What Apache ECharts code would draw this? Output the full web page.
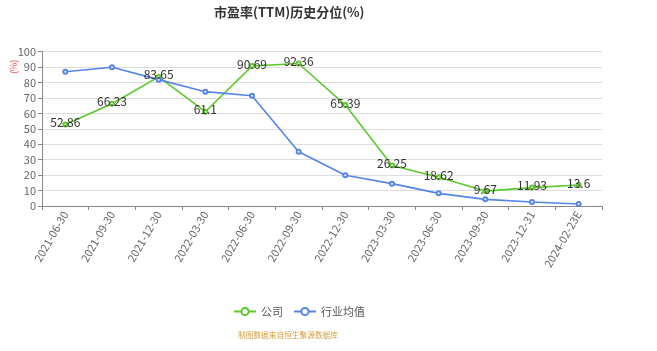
<!DOCTYPE html>
<html>
<head>
<meta charset="utf-8">
<script src="https://cdn.jsdelivr.net/npm/echarts@6/dist/echarts.min.js"></script>
<style>
  html, body { margin: 0; padding: 0; background: #fff; }
  #main { width: 657px; height: 351px; }
</style>
</head>
<body>
<div id="main"></div>
<script>
// 报告期
var dates = ['2021-06-30', '2021-09-30', '2021-12-30', '2022-03-30', '2022-06-30', '2022-09-30',
  '2022-12-30', '2023-03-30', '2023-06-30', '2023-09-30', '2023-12-31', '2024-02-23E']
// 公司 PE 历史分位
var company = [52.86, 66.23, 83.65, 61.1, 90.69, 92.36, 65.39, 26.25, 18.62, 9.67, 11.93, 13.6]
// 行业均值
var industry = [87.0, 89.9, 81.9, 74.1, 71.5, 35.2, 19.9, 14.5, 8.2, 4.3, 2.6, 1.3]

var chart = echarts.init(document.getElementById('main'))
var font = 'Noto Sans CJK SC, Noto Sans, sans-serif'

chart.setOption({
  animation: false,
  textStyle: { fontFamily: font },
  title: {
    text: '市盈率(TTM)历史分位(%)',
    left: 209,
    top: 1,
    textStyle: { fontSize: 13, fontWeight: 'bold', color: '#333', fontFamily: font }
  },
  legend: {
    bottom: 29,
    left: 228,
    itemWidth: 22,
    itemHeight: 9,
    itemGap: 10,
    textStyle: { fontSize: 11, color: '#555' },
    data: ['公司', '行业均值']
  },
  graphic: [
    {
      type: 'text',
      left: 238,
      top: 331,
      style: { text: '制图数据来自恒生聚源数据库', fontSize: 7.7, fill: '#d4a040', fontFamily: font }
    },
    {
      type: 'text',
      x: 9,
      y: 74,
      rotation: Math.PI / 2,
      style: { text: '(%)', fontSize: 9, fill: '#f05050', fontFamily: font }
    }
  ],
  grid: { left: 42, right: 55, top: 51.7, bottom: 145 },
  xAxis: {
    type: 'category',
    data: dates,
    boundaryGap: true,
    axisLine: { lineStyle: { color: '#888' } },
    axisTick: { show: true, length: 4, lineStyle: { color: '#888' } },
    axisLabel: { rotate: 60, fontSize: 11, color: '#666', margin: 6, interval: 0 }
  },
  yAxis: {
    type: 'value',
    min: 0,
    max: 100,
    interval: 10,
    axisLine: { show: true, lineStyle: { color: '#888' } },
    axisTick: { show: true, length: 4, lineStyle: { color: '#888' } },
    axisLabel: { fontSize: 11, color: '#666', margin: 6 },
    splitLine: { lineStyle: { color: '#ddd', width: 1 } }
  },
  series: [
    {
      name: '公司',
      type: 'line',
      data: company,
      symbol: 'emptyCircle',
      symbolSize: 4,
      color: '#5cc92a',
      lineStyle: { width: 1.6 },
      itemStyle: { borderWidth: 1 },
      label: {
        show: true,
        position: 'inside',
        offset: [0, -2],
        fontSize: 12,
        color: '#333'
      }
    },
    {
      name: '行业均值',
      type: 'line',
      data: industry,
      symbol: 'emptyCircle',
      symbolSize: 4,
      color: '#5585e8',
      lineStyle: { width: 1.6 },
      itemStyle: { borderWidth: 1 }
    }
  ]
})
</script>
</body>
</html>
